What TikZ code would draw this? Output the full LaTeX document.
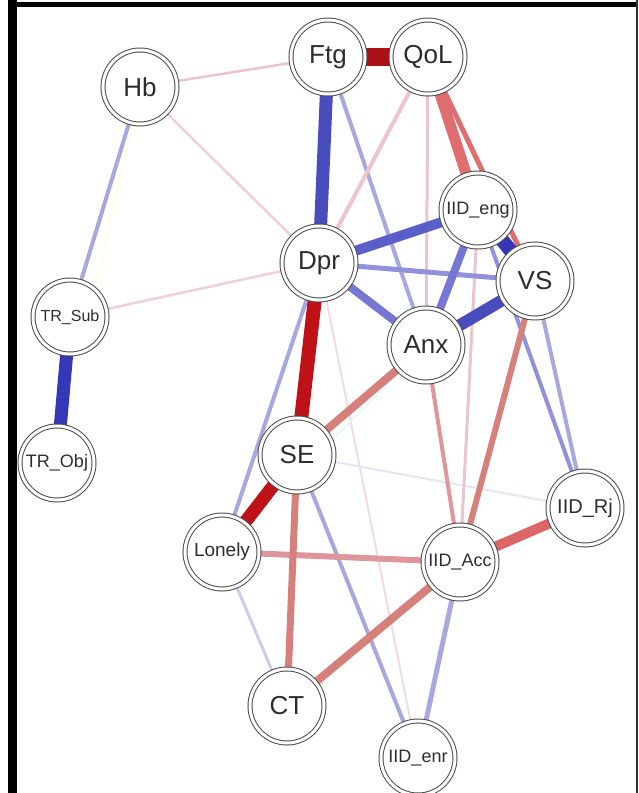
\documentclass[tikz,border=0pt]{standalone}
\usepackage{fontspec}
\setmainfont{Liberation Sans}
\usetikzlibrary{backgrounds}
\definecolor{dred}{RGB}{190,18,24}
\definecolor{mred}{RGB}{222,110,112}
\definecolor{sred}{RGB}{214,128,124}
\definecolor{pred}{RGB}{222,150,156}
\definecolor{lpink}{RGB}{236,196,204}
\definecolor{fpink}{RGB}{242,220,226}
\definecolor{dblue}{RGB}{52,56,182}
\definecolor{mblue}{RGB}{92,94,204}
\definecolor{sblue}{RGB}{118,118,212}
\definecolor{lav}{RGB}{168,168,224}
\definecolor{flav}{RGB}{204,204,236}
\definecolor{txt}{RGB}{45,45,45}
\tikzset{
  nd/.style={circle, draw=black!70, double=white, double distance=3pt, line width=1pt,
    fill=white, minimum size=74pt, inner sep=0pt, text=txt,
    font=\fontsize{26}{26}\selectfont},
  sm/.style={font=\fontsize{#1}{#1}\selectfont},
  ed/.style={line width=#1}
}
\begin{document}
\begin{tikzpicture}[x=1pt,y=-1pt]
\useasboundingbox (0,0) rectangle (638,793);

% nodes
\node[nd] (Hb) at (140,87) {Hb};
\node[nd] (Ftg) at (328,57) {Ftg};
\node[nd] (QoL) at (428,57) {QoL};
\node[nd, sm=18] (IIDeng) at (478,210) {IID\_eng};
\node[nd] (Dpr) at (319,263) {Dpr};
\node[nd] (VS) at (535,281) {VS};
\node[nd, sm=16] (TRSub) at (70,317) {TR\_Sub};
\node[nd] (Anx) at (426,345) {Anx};
\node[nd, sm=18] (TRObj) at (57,463) {TR\_Obj};
\node[nd] (SE) at (297,455) {SE};
\node[nd, sm=20] (IIDRj) at (585,508) {IID\_Rj};
\node[nd, sm=19] (Lonely) at (222,552) {Lonely};
\node[nd, sm=18] (IIDAcc) at (460,562) {IID\_Acc};
\node[nd] (CT) at (287,706) {CT};
\node[nd, sm=18] (IIDenr) at (418,758) {IID\_enr};

\begin{scope}[on background layer]
\fill[white] (0,0) rectangle (638,793);
% frame
\fill[black] (8,0) rectangle (17,793);
\fill[black] (8,2) rectangle (638,7);
\draw[black!80, line width=1.5pt] (637,0) -- (637,793);
% faint edges
\draw[ed=2pt, fpink] (Dpr) -- (IIDenr);
\draw[ed=2pt, flav!50] (SE) -- (IIDRj);
\draw[ed=2pt, cyan!10] (Anx) -- (Lonely);
\draw[ed=2pt, yellow!10] (Hb) -- (TRObj);
% light edges
\draw[ed=2.5pt, lpink] (Hb) -- (Ftg);
\draw[ed=2.5pt, lpink!80] (Hb) -- (Dpr);
\draw[ed=2.5pt, lpink!80] (TRSub) -- (Dpr);
\draw[ed=4pt, lav] (Hb) -- (TRSub);
\draw[ed=4pt, lav] (Ftg) -- (Anx);
\draw[ed=4pt, lpink] (QoL) -- (Dpr);
\draw[ed=3pt, lpink] (QoL) -- (Anx);
\draw[ed=3pt, lpink] (IIDeng) -- (IIDAcc);
\draw[ed=4pt, pred] (Anx) -- (IIDAcc);
\draw[ed=4pt, lav] (VS) -- (IIDRj);
\draw[ed=4pt, sblue!80] (IIDeng) -- (IIDRj);
\draw[ed=4pt, lav] (Dpr) -- (Lonely);
\draw[ed=4pt, lav] (SE) -- (IIDenr);
\draw[ed=3pt, flav] (Lonely) -- (CT);
\draw[ed=5pt, lav] (IIDAcc) -- (IIDenr);
\draw[ed=5pt, sblue!80] (Dpr) -- (VS);
% medium edges
\draw[ed=6pt, pred] (Lonely) -- (IIDAcc);
\draw[ed=7pt, sred] (SE) -- (CT);
\draw[ed=6pt, sred] (VS) -- (IIDAcc);
\draw[ed=5pt, mred] (QoL) -- (VS);
\draw[ed=8pt, sred] (CT) -- (IIDAcc);
\draw[ed=8pt, sred] (SE) -- (Anx);
\draw[ed=11pt, mred] (QoL) -- (IIDeng);
\draw[ed=10pt, mred!90!dred] (IIDAcc) -- (IIDRj);
\draw[ed=8pt, sblue] (Dpr) -- (Anx);
\draw[ed=8pt, sblue] (IIDeng) -- (Anx);
\draw[ed=10pt, mblue] (Dpr) -- (IIDeng);
% strong edges
\draw[ed=12pt, dblue!90] (Anx) -- (VS);
\draw[ed=14pt, dblue] (IIDeng) -- (VS);
\draw[ed=13pt, dblue!90] (Ftg) -- (Dpr);
\draw[ed=13pt, dblue] (TRSub) -- (TRObj);
\draw[ed=14pt, dred] (Dpr) -- (SE);
\draw[ed=13pt, dred] (SE) -- (Lonely);
\draw[ed=18pt, dred!90!black] (Ftg) -- (QoL);
\end{scope}
\end{tikzpicture}
\end{document}
